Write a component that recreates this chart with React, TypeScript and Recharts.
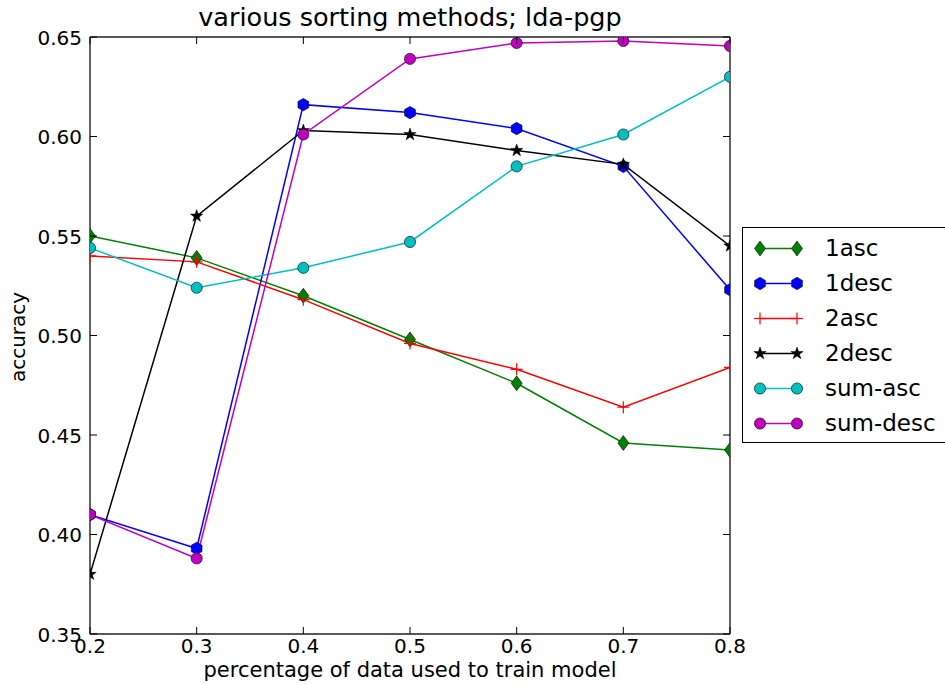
import React from "react";
import { Legend, Line, LineChart, XAxis, YAxis } from "recharts";

// training fraction on the x axis
const fractions = [0.2, 0.3, 0.4, 0.5, 0.6, 0.7, 0.8];

// accuracy per sorting method
const asc1 = [0.55, 0.539, 0.52, 0.498, 0.476, 0.446, 0.4425];
const desc1 = [0.41, 0.393, 0.616, 0.612, 0.604, 0.585, 0.523];
const asc2 = [0.54, 0.537, 0.518, 0.496, 0.483, 0.464, 0.484];
const desc2 = [0.38, 0.56, 0.603, 0.601, 0.593, 0.586, 0.545];
const sumAsc = [0.544, 0.524, 0.534, 0.547, 0.585, 0.601, 0.63];
const sumDesc = [0.41, 0.388, 0.601, 0.639, 0.647, 0.648, 0.6455];

const xTicks = [0.2, 0.3, 0.4, 0.5, 0.6, 0.7, 0.8];
const yTicks = [0.35, 0.4, 0.45, 0.5, 0.55, 0.6, 0.65];

type Shape = "diamond" | "hexagon" | "plus" | "star" | "circle";

const series: { key: string; label: string; values: number[]; color: string; shape: Shape }[] = [
  { key: "asc1", label: "1asc", values: asc1, color: "#008000", shape: "diamond" },
  { key: "desc1", label: "1desc", values: desc1, color: "#0000ff", shape: "hexagon" },
  { key: "asc2", label: "2asc", values: asc2, color: "#ff0000", shape: "plus" },
  { key: "desc2", label: "2desc", values: desc2, color: "#000000", shape: "star" },
  { key: "sumAsc", label: "sum-asc", values: sumAsc, color: "#00bfbf", shape: "circle" },
  { key: "sumDesc", label: "sum-desc", values: sumDesc, color: "#bf00bf", shape: "circle" }
];

const rows = fractions.map((x, i) => {
  const row: Record<string, number> = { x };
  series.forEach((s) => {
    row[s.key] = s.values[i];
  });
  return row;
});

const FONT = "'DejaVu Sans', sans-serif";
const TICK_LEN = 7;
const FRAME = { stroke: "#222", strokeWidth: 1.4 };

function Marker({ shape, cx, cy, color }: { shape: Shape; cx: number; cy: number; color: string }) {
  if (shape === "diamond") {
    const pts = `${cx},${cy - 7.5} ${cx + 5.5},${cy} ${cx},${cy + 7.5} ${cx - 5.5},${cy}`;
    return <polygon points={pts} fill={color} stroke="#000" strokeWidth={0.6} />;
  }
  if (shape === "hexagon") {
    const pts = [0, 1, 2, 3, 4, 5]
      .map((k) => {
        const a = ((90 + 60 * k) * Math.PI) / 180;
        return `${cx + 6.2 * Math.cos(a)},${cy - 6.2 * Math.sin(a)}`;
      })
      .join(" ");
    return <polygon points={pts} fill={color} stroke="#000" strokeWidth={0.6} />;
  }
  if (shape === "plus") {
    return (
      <g stroke={color} strokeWidth={1.2}>
        <line x1={cx - 6} x2={cx + 6} y1={cy} y2={cy} />
        <line x1={cx} x2={cx} y1={cy - 6} y2={cy + 6} />
      </g>
    );
  }
  if (shape === "star") {
    const pts = Array.from({ length: 10 }, (_, k) => {
      const r = k % 2 === 0 ? 6.5 : 2.6;
      const a = ((90 + 36 * k) * Math.PI) / 180;
      return `${cx + r * Math.cos(a)},${cy - r * Math.sin(a)}`;
    }).join(" ");
    return <polygon points={pts} fill={color} stroke="#000" strokeWidth={0.5} />;
  }
  return <circle cx={cx} cy={cy} r={5.6} fill={color} stroke="#000" strokeWidth={0.6} />;
}

const BottomTick = (props: any) => {
  const { x, y, payload } = props;
  return (
    <g>
      <line x1={x} x2={x} y1={y} y2={y - TICK_LEN} stroke="#000" />
      <text x={x} y={y + 19} textAnchor="middle" fontFamily={FONT} fontSize={20} fill="#000">
        {Number(payload.value).toFixed(1)}
      </text>
    </g>
  );
};

const TopTick = (props: any) => {
  const { x, y } = props;
  return <line x1={x} x2={x} y1={y} y2={y + TICK_LEN} stroke="#000" />;
};

const LeftTick = (props: any) => {
  const { x, y, payload } = props;
  return (
    <g>
      <line x1={x} x2={x + TICK_LEN} y1={y} y2={y} stroke="#000" />
      <text x={x - 8} y={y + 7.5} textAnchor="end" fontFamily={FONT} fontSize={20} fill="#000">
        {Number(payload.value).toFixed(2)}
      </text>
    </g>
  );
};

const RightTick = (props: any) => {
  const { x, y } = props;
  return <line x1={x} x2={x - TICK_LEN} y1={y} y2={y} stroke="#000" />;
};

function LegendBox() {
  return (
    <div
      style={{
        border: "1.5px solid #000",
        background: "#fff",
        width: 240,
        boxSizing: "border-box",
        paddingTop: 3,
        paddingBottom: 1,
        fontFamily: FONT
      }}
    >
      {series.map((s) => (
        <div key={s.key} style={{ height: 35, display: "flex", alignItems: "center" }}>
          <svg width={82} height={35} style={{ flex: "none" }}>
            <line x1={17} x2={54} y1={17.5} y2={17.5} stroke={s.color} strokeWidth={1.5} />
            <Marker shape={s.shape} cx={17} cy={17.5} color={s.color} />
            <Marker shape={s.shape} cx={54} cy={17.5} color={s.color} />
          </svg>
          <span style={{ fontSize: 23, lineHeight: "35px", color: "#000" }}>{s.label}</span>
        </div>
      ))}
    </div>
  );
}

export default function App() {
  return (
    <div
      style={{
        position: "absolute",
        left: 0,
        top: 0,
        width: 945,
        height: 684,
        overflow: "hidden",
        background: "#fff",
        fontFamily: FONT
      }}
    >
      <LineChart width={945} height={684} data={rows} margin={{ top: 36, right: 214, bottom: 0, left: 0 }}>
        <XAxis
          xAxisId="bottom"
          dataKey="x"
          type="number"
          domain={[0.2, 0.8]}
          ticks={xTicks}
          allowDataOverflow
          height={50}
          tickSize={0}
          tickMargin={0}
          axisLine={FRAME}
          tickLine={false}
          tick={<BottomTick />}
        />
        <XAxis
          xAxisId="top"
          orientation="top"
          dataKey="x"
          type="number"
          domain={[0.2, 0.8]}
          ticks={xTicks}
          allowDataOverflow
          height={1}
          tickSize={0}
          tickMargin={0}
          axisLine={FRAME}
          tickLine={false}
          tick={<TopTick />}
        />
        <YAxis
          yAxisId="left"
          type="number"
          domain={[0.35, 0.65]}
          ticks={yTicks}
          allowDataOverflow
          width={90}
          tickSize={0}
          tickMargin={0}
          axisLine={FRAME}
          tickLine={false}
          tick={<LeftTick />}
        />
        <YAxis
          yAxisId="right"
          orientation="right"
          type="number"
          domain={[0.35, 0.65]}
          ticks={yTicks}
          allowDataOverflow
          width={1}
          tickSize={0}
          tickMargin={0}
          axisLine={FRAME}
          tickLine={false}
          tick={<RightTick />}
        />
        <Legend
          layout="horizontal"
          verticalAlign="middle"
          align="center"
          content={() => <LegendBox />}
          wrapperStyle={{ position: "absolute", left: 742, top: 227, width: 240 }}
        />
        {series.map((s) => (
          <Line
            key={s.key}
            xAxisId="bottom"
            yAxisId="left"
            dataKey={s.key}
            name={s.label}
            type="linear"
            stroke={s.color}
            strokeWidth={1.5}
            isAnimationActive={false}
            dot={(p: any) => (
              <Marker key={`${s.key}-${p.index}`} shape={s.shape} cx={p.cx} cy={p.cy} color={s.color} />
            )}
            activeDot={false}
          />
        ))}
      </LineChart>
      <div
        style={{
          position: "absolute",
          left: 90,
          width: 640,
          top: 1,
          textAlign: "center",
          fontSize: 25.5,
          lineHeight: "32px",
          color: "#000"
        }}
      >
        various sorting methods; lda-pgp
      </div>
      <div
        style={{
          position: "absolute",
          left: 90,
          width: 640,
          top: 657,
          textAlign: "center",
          fontSize: 21,
          lineHeight: "26px",
          color: "#000"
        }}
      >
        percentage of data used to train model
      </div>
      <div
        style={{
          position: "absolute",
          left: 18,
          top: 337,
          transform: "translate(-50%, -50%) rotate(-90deg)",
          fontSize: 20,
          lineHeight: "24px",
          whiteSpace: "nowrap",
          color: "#000"
        }}
      >
        accuracy
      </div>
    </div>
  );
}
